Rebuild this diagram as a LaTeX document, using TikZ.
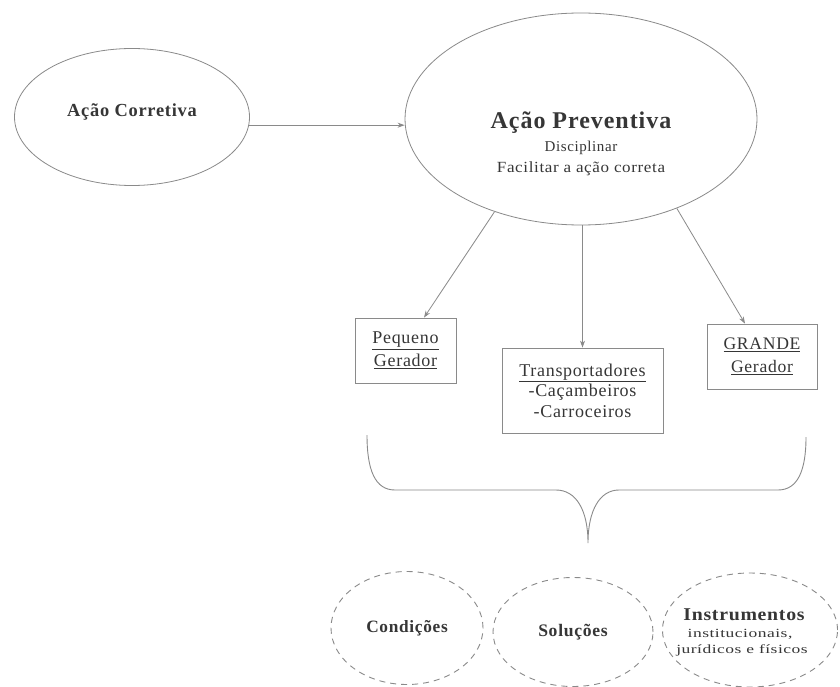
\documentclass[tikz,border=0pt]{standalone}
\usepackage{fontspec}
\setmainfont{Liberation Serif}[LetterSpace=4]
\usetikzlibrary{shapes.geometric,arrows.meta,calc}
\definecolor{ln}{HTML}{8A8A8A}
\definecolor{tx}{HTML}{363636}
\begin{document}
\begin{tikzpicture}[x=1pt,y=-1pt,
  every node/.style={text=tx},
  oval/.style={ellipse, draw=ln, line width=0.8pt, inner sep=0pt},
  dashoval/.style={oval, dash pattern=on 6pt off 5pt, line width=0.9pt},
  gbox/.style={rectangle, draw=ln, line width=0.8pt, inner sep=0pt, align=center},
  arr/.style={draw=ln, line width=0.8pt, -{Stealth[length=7pt,width=5pt]}},
  bracepath/.style={draw=ln, line width=0.9pt},
]
\useasboundingbox[fill=white] (0,0) rectangle (840,687);

% top ellipses
\node[oval, minimum width=235pt, minimum height=137pt] (corr) at (132,117) {};
\node[font=\bfseries\fontsize{18.4}{20}\selectfont] (corrtxt) at (132,112) {Ação Corretiva};

\node[oval, minimum width=352pt, minimum height=212pt] (prev) at (581,119) {};
\node[font=\bfseries\fontsize{24}{26}\selectfont] (prevA) at (581,123) {Ação Preventiva};
\node[font=\fontsize{15}{17}\selectfont] (prevB) at (581,148) {Disciplinar};
\node[font=\fontsize{15.5}{17}\selectfont\addfontfeature{FakeStretch=1.1}] (prevC) at (581,169) {Facilitar a ação correta};

\draw[arr] (corr.-4) -- (corr.-4 -| prev.west);

% boxes
\node[gbox, minimum width=101pt, minimum height=65pt, font=\fontsize{18}{23}\selectfont] (peq) at (405.5,350.5) {\underline{Pequeno}\\\underline{Gerador}};
\node[gbox, minimum width=161pt, minimum height=85pt, font=\fontsize{18}{20.5}\selectfont] (trn) at (582.5,390.5) {\underline{Transportadores}\\-Caçambeiros\\-Carroceiros};
\node[gbox, minimum width=110pt, minimum height=65pt, font=\fontsize{17.6}{23}\selectfont] (grd) at (762,356.5) {\underline{GRANDE}\\\underline{Gerador}};

\draw[arr] (prev.227) -- ($(peq.north)+(18.5,0)$);
\draw[arr] (trn.north |- prev.south) -- (trn.north);
\draw[arr] (prev.-43) -- ($(grd.north)+(-17,0)$);

% brace
\draw[bracepath] (367,435) .. controls (367,470) and (375,490) .. (395,490)
  -- (556,490) .. controls (576,490) and (588,510) .. (588,543)
  .. controls (588,510) and (600,490) .. (619,490)
  -- (778,490) .. controls (798,490) and (806,470) .. (806,437);

% bottom ellipses
\node[dashoval, minimum width=152pt, minimum height=113pt, font=\bfseries\fontsize{17.3}{18}\selectfont] (cond) at (407,628) {Condições};
\node[dashoval, minimum width=160pt, minimum height=109pt, font=\bfseries\fontsize{17.6}{18}\selectfont] (sol) at (573,632) {Soluções};
\node[dashoval, minimum width=175pt, minimum height=114pt] (inst) at (750,630) {};
\node[font=\bfseries\fontsize{18}{20}\selectfont\addfontfeature{FakeStretch=1.1}, inner sep=1pt] (instA) at (744,615) {Instrumentos};
\node[font=\fontsize{12.5}{14}\selectfont\addfontfeature{FakeStretch=1.4}, inner sep=1pt] (instB) at (740,634) {institucionais,};
\node[font=\fontsize{12.5}{14}\selectfont\addfontfeature{FakeStretch=1.4}, inner sep=1pt] (instC) at (742,650) {jurídicos e físicos};
\end{tikzpicture}
\end{document}
